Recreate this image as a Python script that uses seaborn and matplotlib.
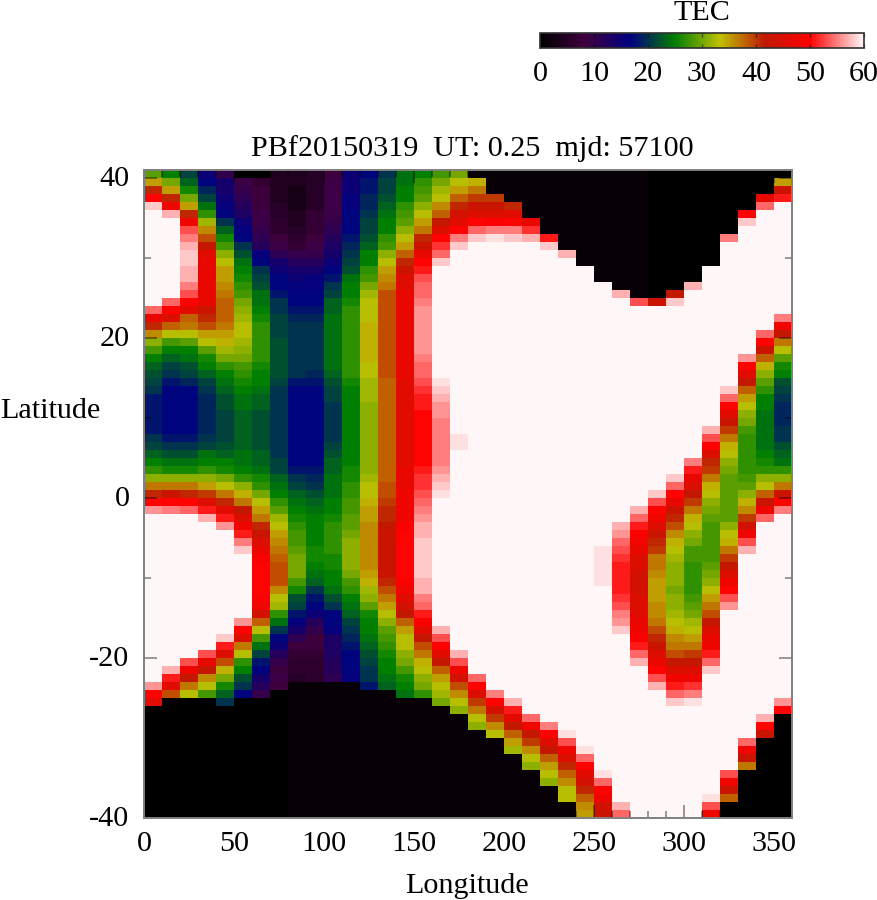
import numpy as np
import pandas as pd
import seaborn as sns
import matplotlib
matplotlib.use("Agg")
import matplotlib.pyplot as plt
from matplotlib.colors import LinearSegmentedColormap
from matplotlib.transforms import ScaledTranslation

# tec values per longitude column, top row is lat 40, bottom row is lat -40
lon_000 = [29,35,41,50,58] + [60]*12 + [54,47,41,36,31,28,25,23,22,21,20] + [18]*5 + [20,21,23,25,27,31,37,41,50,56] + [60]*21 + [56,50,46] + [0]*14
lon_010 = [25,30,35,41,48,57] + [60]*10 + [54,50,45,38,33,28,25,23,21,20,18] + [17]*6 + [18,20,22,24,26,31,37,43,50,55] + [60]*19 + [57,51,46,39] + [0]*15
lon_020 = [21,23,26,30,35,41,48,53,55,57,58,58,57,57,55,53,50,46,38,37,33,29,25,24,22,21,19] + [17]*6 + [18,20,22,24,26,31,37,41,50,54] + [60]*18 + [53,48,42,37,33] + [0]*15
lon_030 = [15,17,19,21,24,27,32,36,39,42,46,47,47,47,47,47,47,43,41,39,35,33,29,26,25,23,21,20] + [19]*5 + [20,21,24,25,27,31,35,40,45,51,57] + [60]*16 + [53,47,42,36,33,28] + [0]*15
lon_040 = [10,14,14,15,16,17,20,23,26,28,31,33,35,35,36,37,38,38,38,37,35,34,32,30,27,25,24,23,22,22] + [21]*4 + [22,23,25,26,30,33,37,41,46,51,56] + [60]*13 + [58,51,45,39,34,30,26,23,20] + [0]*14
lon_050 = [0,9,10,11,12,13,15,16,17,20,22,24,25,26,27,28,30,31,32,33,33,32,31,30,28,27,26,25,24,24] + [23]*5 + [24,24,25,27,31,34,37,42,45,48,51,55,58] + [60]*8 + [56,50,45,37,33,27,25,22,20,17] + [0]*15
lon_060 = [0,7,8,8,8,9,9,10,11,12,16,17,20,21,22,24,24,25,26,27,27,27,27,27,26,25,25,24,23,23] + [22]*5 + [23,23,24,26,27,30,33,35,37,41,43,45,47,49] + [50]*4 + [49,48,44,38,33,28,24,21,18,17,14,12,10] + [0]*15
lon_070 = [4,4,4,4,5,5,6,6,8,9,11,14,15,17,17,18,20,20,21,21,21,22,22,22,22,22,21] + [20]*9 + [21,21,23,24,25,27,29,32,33,35,36,37,38,39,39,39,36,33,32,27,24,20,17,15,12,10,8,9,8] + [0]*16
lon_080 = [4,4,3,3,3,4,4,5,6,7,10,12,14,15,16,17,17,18,19,20,20,20,20,20,20,20,18] + [17]*10 + [18,20,21,23,24,25,26,27,28,28,29,30,30,30,28,26,22,21,18,16,14,11,8,7,6,6,5] + [1]*17
lon_090 = [5,5,5,5,5,7,7,7,8,9,10,12,14,16,16,17,17,18,19,20,20,20,20,20,20,19,18] + [17]*10 + [18,19,20,22,23,24,25,25,25,25,26,26,25,24,23,20,18,17,15,12,10,8,8,7,6,6,6] + [1]*17
lon_100 = [8,9,9,9,9,9,10,11,12,13,14,15,17,18,20,21,23,23,24,24,24,24,24,24,24,23,22,21,21] + [20]*5 + [21,22,23,23,24,24,24,25,25,26,27,27,27,27,26,26,25,25,24,22,20,17,17,16,13,13,13,12,12,11] + [1]*17
lon_110 = [15,15,15,16,16,17,17,17,18,19,20,21,22,24,25,25,26,27,27,27,27,27,27,27,27,27,26] + [25]*10 + [26,26,27,27,28,28,29,29,30,31,31,31,31,30,28,27,25,24,23,21,20,19,18,17,17,17,16] + [1]*17
lon_120 = [17,18,18,19,19,20,21,21,22,23,25,25,27,28,30,32,33,33,33,34,34,34,34,34,33,33,32,32,32] + [31]*9 + [32,33,33,34,35,35,36,36] + [36]*4 + [35,34,32,31,29,26,25,25,24,23,22,21,20,20,18] + [1]*16
lon_130 = [20,21,21,22,23,24,25,25,27,28,31,33,35,36,37,39,39,39,39,39,39,39,39,39,39,39] + [38]*13 + [39,39,40,41,41,42,43] + [43]*4 + [43,41,39,37,35,33,31,29,28,27,26,25,25,24,23] + [1]*16
lon_140 = [24,24,25,25,27,28,29,31,33,35,38,41,43,45,46,47,47,47,47,47,47,47,47,47,47,47] + [46]*11 + [47]*3 + [48]*4 + [49] + [50]*6 + [49,48,46,44,42,38,35,33,33,31,30,28,26,25,24] + [1]*15
lon_150 = [25,27,28,29,31,33,35,37,41,43,47,50,51,53,54,54,55,56,56,56,56,56,56,55,54,54,53,52,51,51] + [50]*7 + [51,52,52,53,54,55,56,57,57] + [58]*5 + [57,57,55,54,51,49,46,42,39,37,34,33,31,30,27] + [1]*15
lon_160 = [28,30,32,33,36,38,42,45,50,52,54,58] + [60]*14 + [59,58,57,56,56,55,55,55,55,55,55,56,57,58,59] + [60]*16 + [57,53,50,46,42,38,35,33,32,30] + [1]*14
lon_170 = [30,33,35,38,41,44,46,50,55,58] + [60]*23 + [59,59] + [60]*25 + [57,53,48,44,39,36,33,31] + [1]*13
lon_180 = [1,34,37,40,43,45,50,54,58] + [60]*54 + [54,50,45,40,37,33,31] + [1]*11
lon_190 = [1,1,1,40,43,45,49,55,59] + [60]*56 + [55,50,44,40,36,33] + [1]*10
lon_200 = [1,1,1,1,41,46,50,55,58] + [60]*57 + [57,51,46,42,38,35,32] + [1]*8
lon_210 = [1]*6 + [47,52,57] + [60]*59 + [54,48,42,40,36,33,31] + [1]*6
lon_220 = [1]*8 + [51,58] + [60]*59 + [55,50,45,42,38,35,33,31] + [1]*4
lon_230 = [1]*10 + [57] + [60]*59 + [59,53,48,45,41,38,36,33,33] + [1]*2
lon_240 = [1]*12 + [60]*60 + [59,54,50,46,44,41,38,36,35]
lon_250 = [1]*14 + [60]*33 + [59,59,59,59,59] + [60]*23 + [59,54,50,48,44,43]
lon_260 = [1]*15 + [57] + [60]*28 + [57,56,54,53,52,51,51,51,51,52,53,55,56,58] + [60]*21 + [57,54]
lon_270 = [1]*16 + [53] + [60]*25 + [57,54,51,49,48,47,45,45,44,44,44,45,45,46,47,48,49,51,54,57] + [60]*19
lon_280 = [0]*16 + [43] + [60]*23 + [58,53,50,48,45,43,41,40,37,37,36,35,35,35,36,36,37,39,41,43,45,47,50,53,57] + [60]*16
lon_290 = [0]*15 + [42,58] + [60]*21 + [58,54,50,47,43,41,39,36,34,33,32,31,31,31,30,31,31,32,33,34,36,37,39,42,45,48,51,54,58] + [60]*14
lon_300 = [0]*14 + [57] + [60]*21 + [55,51,47,45,42,40,37,34,33,31,30,28,28,27,27,27,27,28,29,30,32,33,35,37,40,42,45,48,52,55,59] + [60]*14
lon_310 = [0]*12 + [60]*20 + [57,53,50,45,41,40,37,34,33,31,30,29,28,28,28,28,28,29,30,31,33,35,37,39,42,45,47,48,51,54,58] + [60]*15 + [59,53,48]
lon_320 = [0]*8 + [55] + [60]*18 + [58,54,50,46,43,40,37,34,33,31,30,29,29,29,29,29,29,31,33,34,37,40,42,45,48,50,53,56] + [60]*20 + [53,48,43,38,0,0]
lon_330 = [0]*5 + [50,58] + [60]*16 + [56,50,46,42,38,35,33,31,30,28,27,27,27,27,27,28,29,31,34,36,40,44,48,53,57] + [60]*23 + [54,48,43,37] + [0]*6
lon_340 = [0]*3 + [47,54] + [60]*15 + [54,50,43,38,34,31,29,27,25,25,24,24,24,24,24,25,26,27,31,33,38,43,48,54] + [60]*24 + [57,50,43] + [0]*10
lon_350 = [0,35,43,51] + [60]*14 + [55,48,42,37,33,29,26,25,22,21,20,19,19,19,20,20,22,23,24,27,31,37,43,50,55] + [60]*23 + [56,50] + [0]*13

tec_columns = [lon_000, lon_010, lon_020, lon_030, lon_040, lon_050, lon_060, lon_070, lon_080,
               lon_090, lon_100, lon_110, lon_120, lon_130, lon_140, lon_150, lon_160, lon_170,
               lon_180, lon_190, lon_200, lon_210, lon_220, lon_230, lon_240, lon_250, lon_260,
               lon_270, lon_280, lon_290, lon_300, lon_310, lon_320, lon_330, lon_340, lon_350]

lon_edges = list(range(0, 360, 10))
lats = list(range(40, -41, -1))
x_ticks = [0, 50, 100, 150, 200, 250, 300, 350]
y_ticks = [-40, -20, 0, 20, 40]
cbar_ticks = [0, 10, 20, 30, 40, 50, 60]

plt.rcParams['font.family'] = ['Liberation Serif', 'DejaVu Serif']
FS = 21.7
W, H = 878, 900

# palette
stops = [(0, "#000000"), (8.33, "#400040"), (16.67, "#000080"), (25, "#008000"),
         (33.33, "#c0c000"), (41.67, "#c01800"), (50, "#ff0000"), (60, "#fff7f7")]
tec_cmap = LinearSegmentedColormap.from_list("tec", [(v / 60, c) for v, c in stops], N=256)

frame = pd.DataFrame(np.array(tec_columns).T, index=lats, columns=lon_edges)

fig = plt.figure(figsize=(W / 100, H / 100), dpi=100)
ax = fig.add_axes([144 / W, 1 - 818 / H, 648 / W, 648 / H])
cax = fig.add_axes([540 / W, 1 - 48 / H, 324 / W, 15 / H])

sns.heatmap(frame, ax=ax, cmap=tec_cmap, vmin=0, vmax=60, cbar_ax=cax,
            cbar_kws={"orientation": "horizontal", "ticks": cbar_ticks},
            xticklabels=False, yticklabels=False)

# heatmap axes run in cell units, the cell for lat L spans L..L+1
tick_col = (0, 0, 0, 0.5)
ax.set_xticks([v / 10 for v in x_ticks])
ax.set_xticklabels([str(v) for v in x_ticks], fontsize=FS)
ax.set_xticks([v / 10 for v in range(0, 361, 10)], minor=True)
ax.set_yticks([41 - v for v in y_ticks])
ax.set_yticklabels([str(v) for v in y_ticks], fontsize=FS)
ax.set_yticks([41 - v for v in range(-40, 41, 10)], minor=True)
ax.tick_params(axis='both', which='major', direction='in', length=9.4, width=1.1, color=tick_col,
               top=True, right=True, labeltop=False, labelright=False, labelsize=FS)
ax.tick_params(axis='x', which='major', pad=9.5)
ax.tick_params(axis='y', which='major', pad=10.5, labelrotation=0)
ax.tick_params(axis='both', which='minor', direction='in', length=5, width=1.1, color=tick_col,
               top=True, right=True)
# nudge lat labels up a little, they sit above their ticks
nudge = ScaledTranslation(0, 2 / 100, fig.dpi_scale_trans)
for t in ax.get_yticklabels():
    t.set_transform(t.get_transform() + nudge)
for s in ax.spines.values():
    s.set_visible(True)
    s.set_color('#808080')
    s.set_linewidth(1.4)

cb = ax.collections[0].colorbar
cb.ax.tick_params(direction='in', length=3, width=1, color=tick_col, top=True, labelsize=FS, pad=9.5)
cb.outline.set_visible(True)
cb.outline.set_edgecolor('#303030')
cb.outline.set_linewidth(1.2)

fig.text(702 / W, 1 - 12.5 / H, "TEC", ha='center', va='center', fontsize=FS)
fig.text(472 / W, 1 - 149 / H, "PBf20150319  UT: 0.25  mjd: 57100", ha='center', va='center', fontsize=FS)
fig.text(467 / W, 1 - 886 / H, "Longitude", ha='center', va='center', fontsize=FS)
fig.text(0 / W, 1 - 411 / H, "Latitude", ha='left', va='center', fontsize=FS)

fig.savefig("out.png", dpi=100)
